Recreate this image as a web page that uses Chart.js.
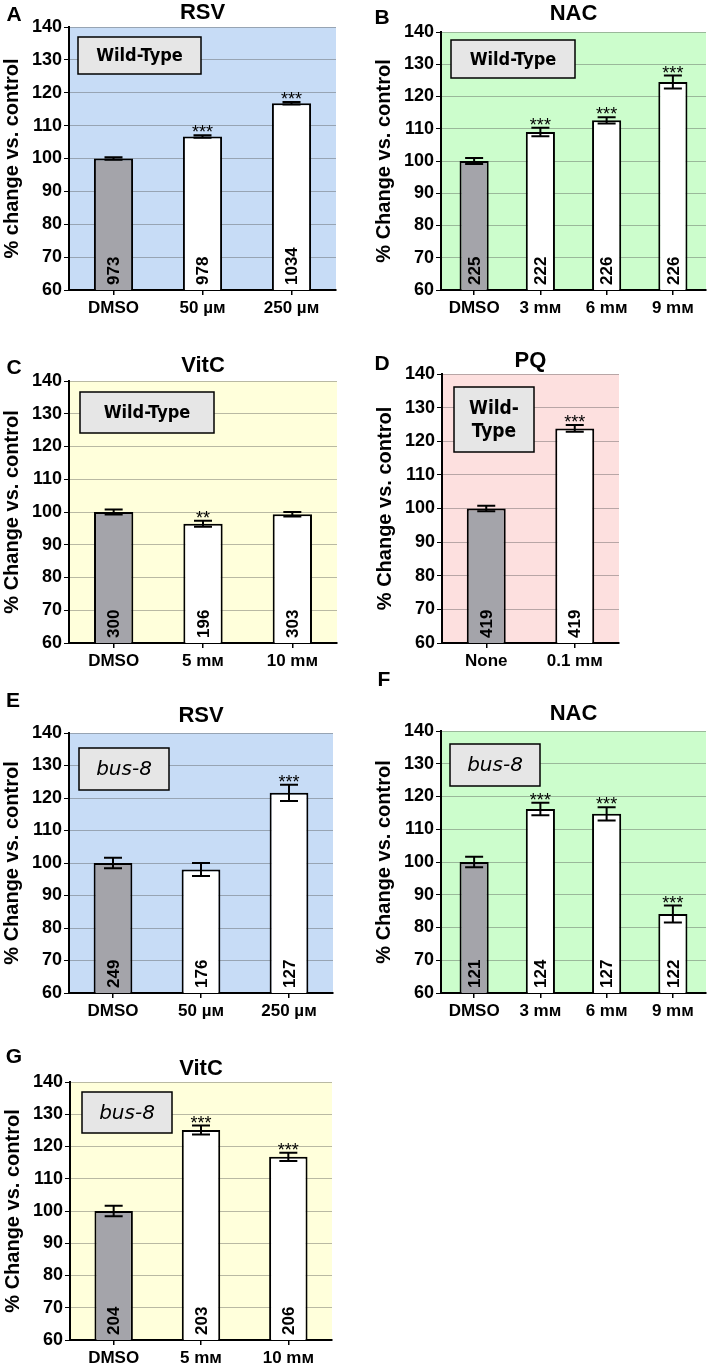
<!DOCTYPE html>
<html>
<head>
<meta charset="utf-8">
<script src="https://cdn.jsdelivr.net/npm/chart.js@4.4.1/dist/chart.umd.min.js"></script>
<style>
  html, body { margin: 0; padding: 0; background: #fff; }
  #wrap { position: relative; width: 709px; height: 1366px; overflow: hidden; }
</style>
</head>
<body>
<div id="wrap"></div>
<script>
/* antioxidant / oxidant panels A–G — each panel is its own bar chart */

const GRAY = '#a4a4aa', BOX = '#e6e6e6';
const BLUE = '#c7dcf6', GREEN = '#ccfdcc', YELLOW = '#ffffdb', PINK = '#fde0df';

// category labels
const rsvLabels = ['DMSO', '50 µᴍ', '250 µᴍ'];
const nacLabels = ['DMSO', '3 mᴍ', '6 mᴍ', '9 mᴍ'];
const vitcLabels = ['DMSO', '5 mᴍ', '10 mᴍ'];
const pqLabels = ['None', '0.1 mᴍ'];

// A — RSV, wild-type
const aValues = [100, 106.7, 116.8];
const aErr = [0.4, 0.4, 0.4];
const aN = [973, 978, 1034];
const aSig = ['', '***', '***'];

// B — NAC, wild-type
const bValues = [100, 109, 112.6, 124.5];
const bErr = [0.9, 1.3, 1.0, 2.0];
const bN = [225, 222, 226, 226];
const bSig = ['', '***', '***', '***'];

// C — VitC, wild-type
const cValues = [100, 96.4, 99.3];
const cErr = [0.8, 0.9, 0.7];
const cN = [300, 196, 303];
const cSig = ['', '**', ''];

// D — PQ, wild-type
const dValues = [100, 123.8];
const dErr = [0.8, 1.0];
const dN = [419, 419];
const dSig = ['', '***'];

// E — RSV, bus-8
const eValues = [100, 98, 121.6];
const eErr = [1.6, 2.0, 2.5];
const eN = [249, 176, 127];
const eSig = ['', '', '***'];

// F — NAC, bus-8
const fValues = [100, 116.2, 114.7, 84.1];
const fErr = [1.6, 1.9, 2.0, 2.6];
const fN = [121, 124, 127, 122];
const fSig = ['', '***', '***', '***'];

// G — VitC, bus-8
const gValues = [100, 125.1, 116.8];
const gErr = [1.6, 1.4, 1.3];
const gN = [204, 203, 206];
const gSig = ['', '***', '***'];

const yTicks = { min: 60, max: 140, step: 10 };

Chart.defaults.font.family = "'Liberation Sans', Arial, sans-serif";

/* layout: plot rect (L,R,T,B) in page px, canvas top, letter + title + strain box */
const panels = [
  { letter: 'A', lx: 14, ly: 14, title: 'RSV', ty: 12, L: 69, R: 336, T: 27, B: 290, top: 0, bg: BLUE,
    ytitle: '% change vs. control', labels: rsvLabels, values: aValues, err: aErr, n: aN, sig: aSig,
    box: { x: 78, y: 37, w: 123, h: 37, text: ['Wild-Type'], italic: false } },
  { letter: 'B', lx: 382, ly: 17, title: 'NAC', ty: 13, L: 441, R: 706, T: 32, B: 290, top: 0, bg: GREEN,
    ytitle: '% Change vs. control', labels: nacLabels, values: bValues, err: bErr, n: bN, sig: bSig,
    box: { x: 451, y: 40, w: 124, h: 38, text: ['Wild-Type'], italic: false } },
  { letter: 'C', lx: 14, ly: 367, title: 'VitC', ty: 365, L: 69, R: 337, T: 381, B: 643, top: 316, bg: YELLOW,
    ytitle: '% Change vs. control', labels: vitcLabels, values: cValues, err: cErr, n: cN, sig: cSig,
    box: { x: 80, y: 392, w: 134, h: 41, text: ['Wild-Type'], italic: false } },
  { letter: 'D', lx: 382, ly: 363, title: 'PQ', ty: 360, L: 442, R: 619, T: 374, B: 643, top: 309, bg: PINK,
    ytitle: '% Change vs. control', labels: pqLabels, values: dValues, err: dErr, n: dN, sig: dSig,
    box: { x: 454, y: 387, w: 80, h: 65, text: ['Wild-', 'Type'], italic: false } },
  { letter: 'E', lx: 13, ly: 700, title: 'RSV', ty: 715, L: 69, R: 333, T: 733, B: 993, top: 668, bg: BLUE,
    ytitle: '% Change vs. control', labels: rsvLabels, values: eValues, err: eErr, n: eN, sig: eSig,
    box: { x: 79, y: 748, w: 90, h: 42, text: ['bus-8'], italic: true } },
  { letter: 'F', lx: 384, ly: 679, title: 'NAC', ty: 713, L: 441, R: 706, T: 731, B: 993, top: 666, bg: GREEN,
    ytitle: '% Change vs. control', labels: nacLabels, values: fValues, err: fErr, n: fN, sig: fSig,
    box: { x: 450, y: 744, w: 90, h: 42, text: ['bus-8'], italic: true } },
  { letter: 'G', lx: 14, ly: 1056, title: 'VitC', ty: 1068, L: 70, R: 332, T: 1082, B: 1340, top: 1017, bg: YELLOW,
    ytitle: '% Change vs. control', labels: vitcLabels, values: gValues, err: gErr, n: gN, sig: gSig,
    box: { x: 82, y: 1092, w: 90, h: 41, text: ['bus-8'], italic: true } },
];

function decor(p, left, top) {
  return {
    id: 'decor' + p.letter,
    beforeDraw(chart) {
      const { ctx, chartArea: a } = chart;
      ctx.save();
      ctx.fillStyle = p.bg;
      ctx.fillRect(a.left, a.top, a.right - a.left, a.bottom - a.top);
      ctx.restore();
    },
    afterDatasetsDraw(chart) {
      const { ctx, chartArea: a, scales: { x, y } } = chart;
      ctx.save();
      // error bars, stars, n
      p.values.forEach((v, i) => {
        const cx = x.getPixelForValue(i);
        const hi = y.getPixelForValue(v + p.err[i]), lo = y.getPixelForValue(v - p.err[i]);
        ctx.strokeStyle = '#000'; ctx.lineWidth = 2;
        ctx.beginPath();
        ctx.moveTo(cx, hi); ctx.lineTo(cx, lo);
        ctx.moveTo(cx - 9, hi); ctx.lineTo(cx + 9, hi);
        ctx.moveTo(cx - 9, lo); ctx.lineTo(cx + 9, lo);
        ctx.stroke();
        ctx.fillStyle = '#000';
        if (p.sig[i]) {
          ctx.font = "18px 'Liberation Sans', Arial";
          ctx.textAlign = 'center'; ctx.textBaseline = 'alphabetic';
          ctx.fillText(p.sig[i], cx, hi + 3);
        }
        ctx.save();
        ctx.translate(cx, a.bottom - 5);
        ctx.rotate(-Math.PI / 2);
        ctx.font = "bold 17px 'Liberation Sans', Arial";
        ctx.textAlign = 'left'; ctx.textBaseline = 'middle';
        ctx.fillText(String(p.n[i]), 0, 1);
        ctx.restore();
      });
      // strain box
      const b = p.box, bx = b.x - left, by = b.y - top;
      ctx.fillStyle = BOX; ctx.strokeStyle = '#000'; ctx.lineWidth = 1.5;
      ctx.fillRect(bx, by, b.w, b.h); ctx.strokeRect(bx, by, b.w, b.h);
      ctx.fillStyle = '#000';
      ctx.textAlign = 'center'; ctx.textBaseline = 'middle';
      ctx.font = b.italic ? "italic 20px 'DejaVu Sans'" : (b.text.length > 1 ? "bold 19px 'DejaVu Sans Condensed', 'DejaVu Sans'" : "bold 18px 'DejaVu Sans Condensed', 'DejaVu Sans'");
      const lh = 23, y0 = by + b.h / 2 - (b.text.length - 1) * lh / 2;
      b.text.forEach((t, k) => ctx.fillText(t, bx + b.w / 2, y0 + k * lh + 1));
      // title + letter
      ctx.font = "bold 22px 'Liberation Sans', Arial";
      ctx.fillText(p.title, (a.left + a.right) / 2, p.ty - top + 1);
      ctx.font = "bold 21px 'Liberation Sans', Arial";
      ctx.fillText(p.letter, p.lx - left, p.ly - top + 1);
      ctx.restore();
    },
  };
}

const wrap = document.getElementById('wrap');
panels.forEach(p => {
  const left = p.L - 69, top = p.top;
  const width = p.R + 3 - left, height = p.B + 34 - top;
  const cv = document.createElement('canvas');
  cv.width = width; cv.height = height;
  cv.style.cssText = `position:absolute;left:${left}px;top:${top}px;width:${width}px;height:${height}px`;
  wrap.appendChild(cv);
  new Chart(cv, {
    type: 'bar',
    data: {
      labels: p.labels,
      datasets: [{
        data: p.values,
        backgroundColor: p.values.map((_, i) => i === 0 ? GRAY : '#fff'),
        borderColor: '#000', borderWidth: 2,
        barPercentage: 0.44, categoryPercentage: 1,
      }],
    },
    options: {
      responsive: false, animation: false, devicePixelRatio: 1,
      layout: { padding: { top: p.T - top, right: 3, left: 0, bottom: 0 } },
      plugins: { legend: { display: false }, tooltip: { enabled: false }, title: { display: false } },
      scales: {
        x: {
          grid: { display: true, drawOnChartArea: false, offset: false, color: '#000', lineWidth: 1.5, tickLength: 5 },
          border: { color: '#000', width: 2 },
          ticks: { color: '#000', font: { size: 17, weight: 'bold' }, padding: 3, maxRotation: 0, autoSkip: false },
          afterFit: s => { s.height = 34; },
        },
        y: {
          min: yTicks.min, max: yTicks.max,
          ticks: { stepSize: yTicks.step, color: '#000', font: { size: 18, weight: 'bold' }, padding: 2 },
          grid: { color: 'rgba(80,80,80,0.4)', tickColor: '#000', tickLength: 5, lineWidth: 1 },
          border: { color: '#000', width: 2 },
          title: { display: true, text: p.ytitle, color: '#000', font: { size: 20, weight: 'bold' }, padding: 0 },
          afterFit: s => { s.width = 69; },
        },
      },
    },
    plugins: [decor(p, left, top)],
  });
});
</script>
</body>
</html>
